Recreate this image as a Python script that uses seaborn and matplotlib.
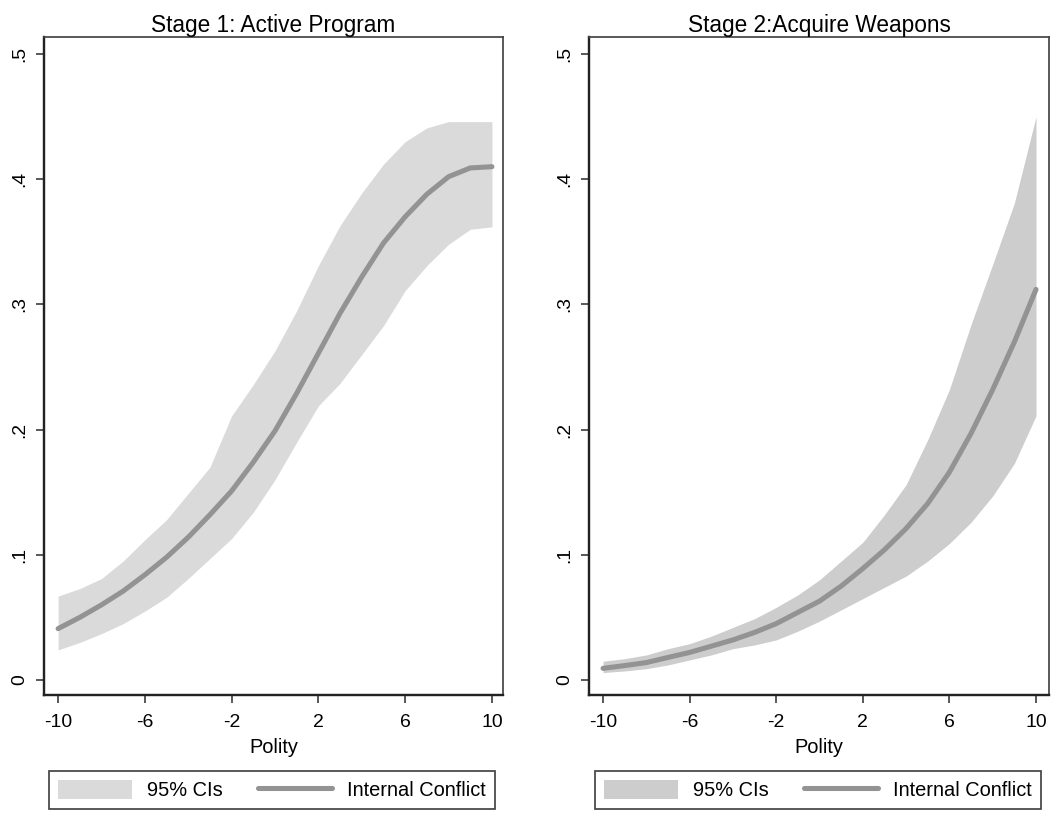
import numpy as np
import pandas as pd
import matplotlib
matplotlib.use("Agg")
import matplotlib.pyplot as plt
import seaborn as sns
from matplotlib.patches import Patch
from matplotlib.lines import Line2D

# Polity scores on the x axis
polity = list(range(-10, 11))

# Stage 1: Active Program (predicted probability + 95% CI)
stage1_pred = [0.041, 0.050, 0.060, 0.071, 0.084, 0.098, 0.114, 0.132, 0.151, 0.174, 0.199,
               0.229, 0.261, 0.293, 0.322, 0.349, 0.370, 0.388, 0.402, 0.409, 0.410]
stage1_hi = [0.067, 0.073, 0.081, 0.095, 0.112, 0.128, 0.149, 0.170, 0.211, 0.236, 0.263,
             0.295, 0.331, 0.363, 0.389, 0.412, 0.430, 0.441, 0.446, 0.446, 0.446]
stage1_lo = [0.024, 0.030, 0.037, 0.045, 0.055, 0.066, 0.081, 0.097, 0.113, 0.134, 0.160,
             0.190, 0.219, 0.237, 0.260, 0.283, 0.311, 0.331, 0.348, 0.360, 0.362]

# Stage 2: Acquire Weapons
stage2_pred = [0.0093, 0.0115, 0.0139, 0.018, 0.022, 0.027, 0.032, 0.038, 0.045, 0.054, 0.063,
               0.075, 0.089, 0.104, 0.121, 0.141, 0.166, 0.197, 0.232, 0.270, 0.312]
stage2_hi = [0.015, 0.017, 0.020, 0.025, 0.029, 0.035, 0.042, 0.049, 0.058, 0.068, 0.080,
             0.095, 0.110, 0.132, 0.156, 0.192, 0.232, 0.284, 0.332, 0.381, 0.450]
stage2_lo = [0.0059, 0.0072, 0.0090, 0.012, 0.016, 0.020, 0.025, 0.028, 0.032, 0.039, 0.047,
             0.056, 0.065, 0.074, 0.083, 0.095, 0.109, 0.126, 0.147, 0.173, 0.211]

titles = ["Stage 1: Active Program", "Stage 2:Acquire Weapons"]
ytick_vals = [0, 0.1, 0.2, 0.3, 0.4, 0.5]
ytick_labels = ["0", ".1", ".2", ".3", ".4", ".5"]
xtick_vals = [-10, -6, -2, 2, 6, 10]

sns.set_style("ticks")
plt.rcParams['font.family'] = ['Liberation Sans', 'DejaVu Sans']
plt.rcParams['text.color'] = 'black'
plt.rcParams['axes.labelcolor'] = 'black'
plt.rcParams['xtick.labelcolor'] = 'black'
plt.rcParams['ytick.labelcolor'] = 'black'

W, H = 1056, 816
fig = plt.figure(figsize=(W / 96, H / 96), dpi=96)

panels = [
    dict(pred=stage1_pred, lo=stage1_lo, hi=stage1_hi, band="#dadada",
         rect=[44 / W, 1 - 695 / H, 459 / W, 658 / H], xlim=(-10.65, 10.51),
         leg=(49 / W, 1 - 771 / H)),
    dict(pred=stage2_pred, lo=stage2_lo, hi=stage2_hi, band="#cdcdcd",
         rect=[589 / W, 1 - 695 / H, 460 / W, 658 / H], xlim=(-10.65, 10.6),
         leg=(595 / W, 1 - 771 / H)),
]

line_color = "#939393"

for i, p in enumerate(panels):
    ax = fig.add_axes(p["rect"])
    df = pd.DataFrame({"Polity": polity, "pred": p["pred"]})
    ax.fill_between(polity, p["lo"], p["hi"], color=p["band"], linewidth=0, zorder=1)
    sns.lineplot(data=df, x="Polity", y="pred", ax=ax, color=line_color, linewidth=3.8,
                 solid_capstyle="round", zorder=2)
    ax.set_xlim(*p["xlim"])
    ax.set_ylim(-0.012, 0.5136)
    ax.set_xticks(xtick_vals)
    ax.set_xticklabels([str(v) for v in xtick_vals], fontsize=14.5)
    ax.set_yticks(ytick_vals)
    ax.set_yticklabels(ytick_labels, fontsize=14.5, rotation=90, va="center")
    ax.tick_params(axis="both", direction="out", length=5.8, width=1.2, color="#333333")
    ax.tick_params(axis="x", pad=8.5)
    ax.tick_params(axis="y", pad=6)
    ax.set_xlabel("Polity", fontsize=15, labelpad=5)
    ax.set_ylabel("")
    ax.set_title(titles[i], fontsize=17, pad=4, color="black")
    for side in ["left", "bottom"]:
        ax.spines[side].set_linewidth(1.8)
        ax.spines[side].set_color("#222222")
    for side in ["top", "right"]:
        ax.spines[side].set_visible(True)
        ax.spines[side].set_linewidth(1.3)
        ax.spines[side].set_color("#444444")

    handles = [Patch(facecolor=p["band"], edgecolor="none", label="95% CIs"),
               Line2D([0], [0], color=line_color, linewidth=3.8, label="Internal Conflict")]
    leg = fig.legend(handles=handles, loc="upper left", bbox_to_anchor=p["leg"],
                     bbox_transform=fig.transFigure, ncol=2, fontsize=15, frameon=True,
                     fancybox=False, framealpha=1, edgecolor="#444444", borderaxespad=0,
                     handlelength=3.7, handleheight=1.1, handletextpad=0.75,
                     columnspacing=1.75, borderpad=0.45)
    leg.get_frame().set_linewidth(1.3)

plt.savefig("out.png", dpi=96)
plt.close()
